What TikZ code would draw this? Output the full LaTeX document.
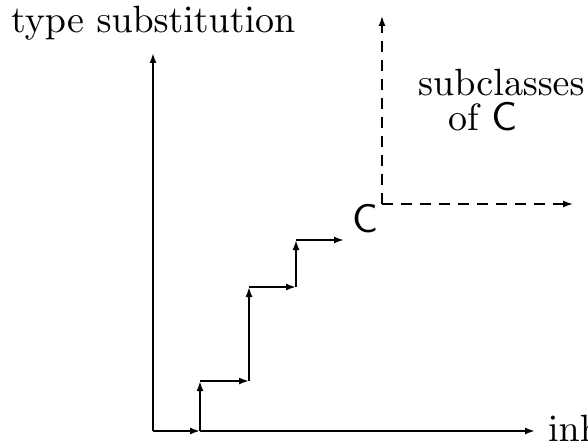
\documentclass[tikz,border=0pt]{standalone}
\usetikzlibrary{arrows.meta}
\font\refrm=cmr10 at 38pt
\font\refsf=cmss10 at 40pt
\begin{document}
\begin{tikzpicture}[x=1pt,y=-1pt,
  solidline/.style={line width=1.8pt,-{Latex[length=10pt,width=7pt]}},
  dashline/.style={line width=1.5pt,dash pattern=on 11pt off 8pt,-{Latex[length=10pt,width=7pt]}},
  lbl/.style={inner sep=0pt,font=\refrm},
  clbl/.style={inner sep=0pt,font=\refsf}]
\useasboundingbox (0,0) rectangle (588,446);
% coordinates
\coordinate (O) at (153,431);
\coordinate (Ytop) at (153,53);
\coordinate (Xend) at (535,431);
\coordinate (S1) at (200,431);
\coordinate (S2) at (200,381);
\coordinate (S3) at (249,381);
\coordinate (S4) at (249,287);
\coordinate (S5) at (296,287);
\coordinate (S6) at (296,240);
\coordinate (S7) at (344,240);
\coordinate (D0) at (382,204);
\coordinate (Dtop) at (382,16);
\coordinate (Dright) at (573,204);
% axes
\draw[solidline] (O) -- (Ytop);
\draw[solidline] (O) -- (S1);
\draw[solidline] (S1) -- (Xend);
% staircase
\draw[solidline] (S1) -- (S2);
\draw[solidline] (S2) -- (S3);
\draw[solidline] (S3) -- (S4);
\draw[solidline] (S4) -- (S5);
\draw[solidline] (S5) -- (S6);
\draw[solidline] (S6) -- (S7);
% dashed
\draw[dashline] (D0) -- (Dtop);
\draw[dashline] (D0) -- (Dright);
% labels
\node[lbl,anchor=base west] (ylab) at (11,33) {type substitution};
\node[lbl,anchor=base west] (sub1) at (418,96) {subclasses};
\node[lbl,anchor=base west] (sub2) at (448,131) {of {\refsf C}};
\node[clbl,anchor=base] (C) at (365,232) {C};
\node[lbl,anchor=base west] (xlab) at (548,441) {inh};
\end{tikzpicture}
\end{document}
